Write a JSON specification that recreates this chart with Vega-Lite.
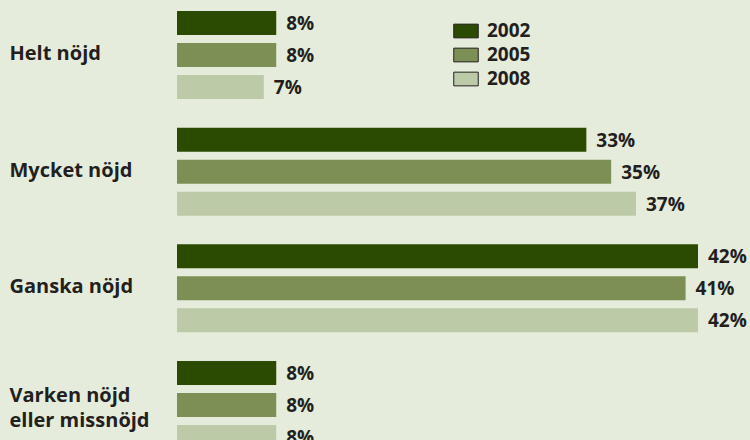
{
  "$schema": "https://vega.github.io/schema/vega-lite/v6.json",
  "autosize": {"type": "none"},
  "width": 521,
  "height": 438,
  "padding": {"left": 177, "top": 11, "right": 52, "bottom": 0},
  "background": "#e6ecdb",
  "config": {
    "view": {"stroke": null},
    "font": "Open Sans"
  },
  "data": {
    "values": [
      {"kategori": "Helt nöjd", "ar": "2002", "andel": 0.08},
      {"kategori": "Helt nöjd", "ar": "2005", "andel": 0.08},
      {"kategori": "Helt nöjd", "ar": "2008", "andel": 0.07},
      {"kategori": "Mycket nöjd", "ar": "2002", "andel": 0.33},
      {"kategori": "Mycket nöjd", "ar": "2005", "andel": 0.35},
      {"kategori": "Mycket nöjd", "ar": "2008", "andel": 0.37},
      {"kategori": "Ganska nöjd", "ar": "2002", "andel": 0.42},
      {"kategori": "Ganska nöjd", "ar": "2005", "andel": 0.41},
      {"kategori": "Ganska nöjd", "ar": "2008", "andel": 0.42},
      {"kategori": "Varken nöjd eller missnöjd", "ar": "2002", "andel": 0.08},
      {"kategori": "Varken nöjd eller missnöjd", "ar": "2005", "andel": 0.08},
      {"kategori": "Varken nöjd eller missnöjd", "ar": "2008", "andel": 0.08}
    ]
  },
  "encoding": {
    "y": {
      "field": "kategori",
      "type": "nominal",
      "sort": null,
      "scale": {"paddingInner": 0.2457, "paddingOuter": 0},
      "axis": {
        "title": null,
        "domain": false,
        "ticks": false,
        "labelPadding": 168,
        "labelAlign": "left",
        "labelFont": "Open Sans",
        "labelFontSize": 20,
        "labelFontWeight": "bold",
        "labelColor": "#231f20",
        "labelLineHeight": 25,
        "labelLimit": 0,
        "labelOffset": {"condition": {"test": "datum.value == 'Varken nöjd eller missnöjd'", "value": -9}, "value": -1},
        "labelExpr": "datum.value == 'Varken nöjd eller missnöjd' ? ['Varken nöjd', 'eller missnöjd'] : datum.value"
      }
    },
    "yOffset": {
      "field": "ar",
      "type": "nominal",
      "scale": {"paddingInner": 0.25, "paddingOuter": 0}
    },
    "x": {
      "field": "andel",
      "type": "quantitative",
      "scale": {"domain": [0, 0.42], "nice": false, "zero": true},
      "axis": null
    }
  },
  "layer": [
    {
      "mark": {"type": "bar"},
      "encoding": {
        "color": {
          "field": "ar",
          "type": "nominal",
          "scale": {"domain": ["2002", "2005", "2008"], "range": ["#2b4b00", "#7c9055", "#bdcaa8"]},
          "legend": {
            "title": null,
            "orient": "none",
            "legendX": 276,
            "legendY": 7,
            "symbolType": "M-1,-0.56L1,-0.56L1,0.56L-1,0.56Z",
            "symbolSize": 600,
            "symbolStrokeColor": "#231f20",
            "symbolStrokeWidth": 1,
            "symbolOpacity": 1,
            "rowPadding": 1,
            "labelFont": "Open Sans",
            "labelFontSize": 19,
            "labelFontWeight": "bold",
            "labelColor": "#231f20",
            "labelOffset": 8
          }
        }
      }
    },
    {
      "mark": {
        "type": "text",
        "align": "left",
        "baseline": "middle",
        "dx": 10,
        "dy": 1,
        "font": "Open Sans",
        "fontSize": 19,
        "fontWeight": "bold",
        "color": "#231f20"
      },
      "encoding": {
        "text": {"field": "andel", "type": "quantitative", "format": ".0%"},
        "detail": {"field": "ar"}
      }
    }
  ]
}
